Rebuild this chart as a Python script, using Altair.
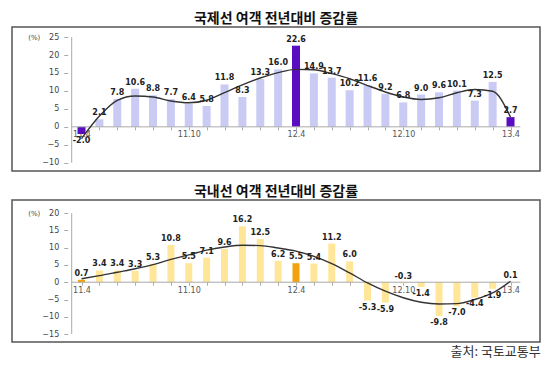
import json
import altair as alt
import pandas as pd

months = ["11.4", "11.5", "11.6", "11.7", "11.8", "11.9", "11.10", "11.11", "11.12",
          "12.1", "12.2", "12.3", "12.4", "12.5", "12.6", "12.7", "12.8", "12.9",
          "12.10", "12.11", "12.12", "13.1", "13.2", "13.3", "13.4"]
axis_labels = ["11.4", "11.10", "12.4", "12.10", "13.4"]

intl = [-2.0, 2.1, 7.8, 10.6, 8.8, 7.7, 6.4, 5.8, 11.8, 8.3, 13.3, 16.0, 22.6,
        14.9, 13.7, 10.2, 11.6, 9.2, 6.8, 9.0, 9.6, 10.1, 7.3, 12.5, 2.7]
intl_trend = [-3.3, 3.0, 7.4, 8.6, 8.3, 7.2, 6.7, 7.4, 9.5, 11.7, 13.6, 15.1, 16.0,
              15.9, 14.8, 13.4, 11.5, 9.7, 8.3, 7.6, 8.1, 9.5, 10.4, 9.9, 2.7]
intl_highlight = ["11.4", "12.4", "13.4"]
intl_ticks = [-10, -5, 0, 5, 10, 15, 20, 25]

dom = [0.7, 3.4, 3.4, 3.3, 5.3, 10.8, 5.5, 7.1, 9.6, 16.2, 12.5, 6.2, 5.5,
       5.4, 11.2, 6.0, -5.3, -5.9, -0.3, -1.4, -9.8, -7.0, -4.4, -1.9, 0.1]
dom_trend = [1.0, 1.9, 2.9, 3.9, 5.1, 6.6, 7.9, 9.3, 10.2, 10.7, 10.6, 9.9, 9.0,
             7.5, 5.4, 2.7, -0.2, -2.6, -4.5, -5.8, -6.3, -6.2, -5.0, -3.1, 0.3]
dom_highlight = ["11.4", "12.4"]
dom_ticks = [-15, -10, -5, 0, 5, 10, 15, 20]

W = 528
XDOM = [-3.61, 25.37]
AXIS_X = -0.55
ZERO_END = 24.55
FONT = "DejaVu Sans"
KFONT = "Noto Sans CJK KR"


def panel(values, trend, highlight, ticks, ydom, H, light, dark, title, barw):
    df = pd.DataFrame({
        "i": list(range(len(months))),
        "month": months,
        "v": values,
        "t": trend,
        "hl": [m in highlight for m in months],
        "label": [f"{v:.1f}" for v in values],
    })
    px_per_x = W / (XDOM[1] - XDOM[0])
    yoff = (AXIS_X - XDOM[0]) * px_per_x
    zero_px = (ydom[1] - 0) / (ydom[1] - ydom[0]) * H
    xoff = H - zero_px
    top_tick_px = (ydom[1] - ticks[-1]) / (ydom[1] - ydom[0]) * H

    yscale = alt.Scale(domain=ydom, nice=False, zero=False)
    xscale = alt.Scale(domain=XDOM, nice=False, zero=False)
    marr = json.dumps(months)
    larr = json.dumps(axis_labels)
    label_expr = f"indexof({larr}, {marr}[datum.value]) >= 0 ? {marr}[datum.value] : ''"

    x_axis = alt.Axis(values=list(range(len(months))), labelExpr=label_expr,
                      offset=-xoff, domain=False, tickSize=3, tickColor="#aaa",
                      labelFontSize=8, labelColor="#555", labelFont=FONT,
                      labelPadding=1, title=None, grid=False, labelFlush=False,
                      labelOverlap=False)
    y_axis = alt.Axis(values=ticks, offset=-yoff, domain=False, tickSize=4,
                      tickColor="#aaa", labelFontSize=8, labelColor="#444",
                      labelFont=FONT, labelPadding=5, grid=False,
                      title="(%)", titleAngle=0, titleX=-34, titleY=top_tick_px,
                      titleFontSize=7, titleFontWeight="normal", titleColor="#444",
                      titleAlign="center", titleBaseline="middle", titleFont=FONT)

    def X(f):
        return alt.X(f, scale=xscale, axis=x_axis)

    def Y(f):
        return alt.Y(f, scale=yscale, axis=y_axis)

    base = alt.Chart(df)
    bars = base.mark_bar(size=barw).encode(
        x=X("i:Q"), y=Y("v:Q"),
        color=alt.condition(alt.datum.hl, alt.value(dark), alt.value(light)),
    )
    pos = base.transform_filter("datum.v >= -0.5").mark_text(
        fontSize=8, fontWeight="bold", font=FONT, baseline="bottom", dy=-2, color="#222"
    ).encode(x=X("i:Q"), y=Y("v:Q"), text="label:N")
    neg = base.transform_filter("datum.v < -0.5").mark_text(
        fontSize=8, fontWeight="bold", font=FONT, baseline="top", dy=3, color="#222"
    ).encode(x=X("i:Q"), y=Y("v:Q"), text="label:N")
    line = base.mark_line(color="#333", strokeWidth=1.4, interpolate="monotone").encode(
        x=X("i:Q"), y=Y("t:Q"))

    zdf = pd.DataFrame({"i": [AXIS_X], "i2": [ZERO_END], "v": [0]})
    zero = alt.Chart(zdf).mark_rule(color="#aaa", strokeWidth=1).encode(
        x=X("i:Q"), x2="i2:Q", y=Y("v:Q"))
    adf = pd.DataFrame({"i": [AXIS_X], "v": [ticks[0]], "v2": [ticks[-1]]})
    yline = alt.Chart(adf).mark_rule(color="#aaa", strokeWidth=1).encode(
        x=X("i:Q"), y=Y("v:Q"), y2="v2:Q")

    return alt.layer(bars, zero, yline, line, pos, neg).properties(
        width=W, height=H,
        title=alt.TitleParams(title, font=KFONT, fontSize=14, fontWeight="bold",
                              color="#111", offset=1),
    )


top = panel(intl, intl_trend, intl_highlight, intl_ticks, [-12.3, 27.8], 144,
            "#C9CBF5", "#5A0CC0", "국제선  여객  전년대비  증감률", 8)
bottom = panel(dom, dom_trend, dom_highlight, dom_ticks, [-17.3, 23.8], 142,
               "#FFE699", "#F2A20C", "국내선  여객  전년대비  증감률", 7)

chart = alt.vconcat(top, bottom, spacing=12).properties(
    title=alt.TitleParams("출처:  국토교통부", orient="bottom", anchor="end",
                          font=KFONT, fontSize=13, fontWeight="normal",
                          color="#333", offset=3),
    padding={"left": 3, "top": 3, "right": 0, "bottom": 0},
).configure_view(stroke="#555", strokeWidth=1.5).configure_axis(grid=False)

chart.save("out.html", embed_options={"renderer": "svg", "actions": False})
